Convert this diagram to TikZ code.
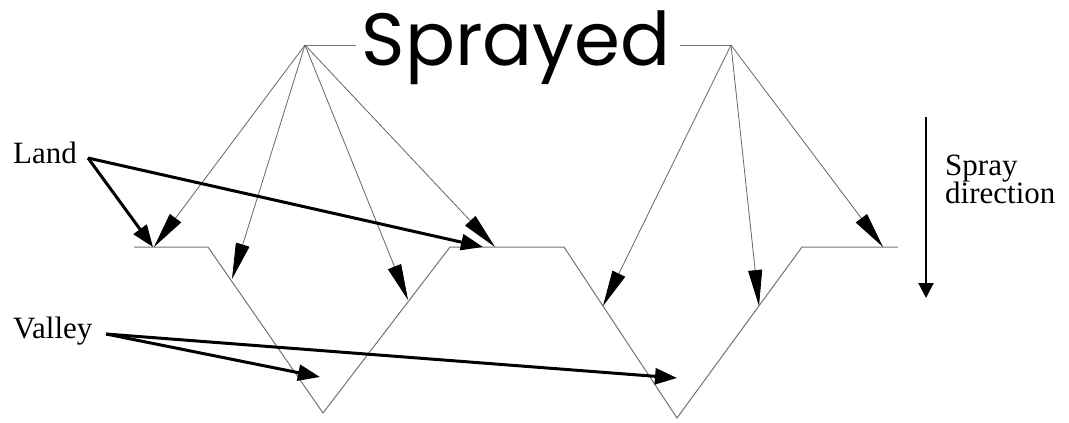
\documentclass[tikz,border=0pt]{standalone}
\usepackage{fontspec}
\setmainfont{Liberation Serif}
\newfontfamily\titlefont{Poppins}
\usetikzlibrary{arrows.meta}

\begin{document}
\begin{tikzpicture}[x=1pt,y=-1pt,
  profile/.style={draw=black!55, line width=1pt},
  spray/.style={draw=black!60, line width=0.8pt, -{Triangle[length=36pt,width=14pt,black]}},
  callout/.style={line width=3pt, -{Triangle[length=22pt,width=16pt]}},
  tag/.style={font=\fontsize{31}{31}\selectfont, inner sep=0pt}]
  \useasboundingbox (0,0) rectangle (1069,423);

  % surface profile
  \coordinate (p0) at (134,247);
  \coordinate (p1) at (208,247);
  \coordinate (v1) at (323,413);
  \coordinate (p2) at (450,247);
  \coordinate (p3) at (564,247);
  \coordinate (v2) at (677,418);
  \coordinate (p4) at (802,247);
  \coordinate (p5) at (898,247);
  \draw[profile] (p0) -- (p1) -- (v1) -- (p2) -- (p3) -- (v2) -- (p4) -- (p5);

  % title and spray sources
  \node[font=\titlefont\fontsize{74}{74}\selectfont, anchor=base, inner sep=0pt] (title) at (516,65) {Sprayed};
  \coordinate (srcL) at (305,45);
  \coordinate (srcR) at (731,45);
  \draw[profile] (srcL) -- (356,45);
  \draw[profile] (680,45) -- (srcR);

  % spray hits
  \coordinate (hitA) at (154,247);
  \coordinate (hitB) at (232,279);
  \coordinate (hitC) at (408,300);
  \coordinate (hitD) at (495,247);
  \coordinate (hitE) at (603,306);
  \coordinate (hitF) at (759,306);
  \coordinate (hitG) at (883,247);
  \foreach \h in {hitA,hitB,hitC,hitD}
    \draw[spray] (srcL) -- (\h);
  \foreach \h in {hitE,hitF,hitG}
    \draw[spray] (srcR) -- (\h);

  % labels
  \node[tag, anchor=base west] (land) at (13,163) {Land};
  \node[tag, anchor=base west] (valley) at (13,338) {Valley};
  \coordinate (landfrom) at (88,158);
  \coordinate (valleyfrom) at (106,334);
  \draw[callout] (landfrom) -- (153,247);
  \draw[callout] (landfrom) -- (483,247);
  \draw[callout] (valleyfrom) -- (320,377);
  \draw[callout] (valleyfrom) -- (677,378);

  % spray direction
  \coordinate (dirtop) at (926,117);
  \coordinate (dirbot) at (926,298);
  \draw[line width=2pt, -{Triangle[length=15pt,width=15pt]}] (dirtop) -- (dirbot);
  \node[tag, anchor=base west] (dirA) at (945,175) {Spray};
  \node[tag, anchor=base west] (dirB) at (945,203) {direction};
\end{tikzpicture}
\end{document}
